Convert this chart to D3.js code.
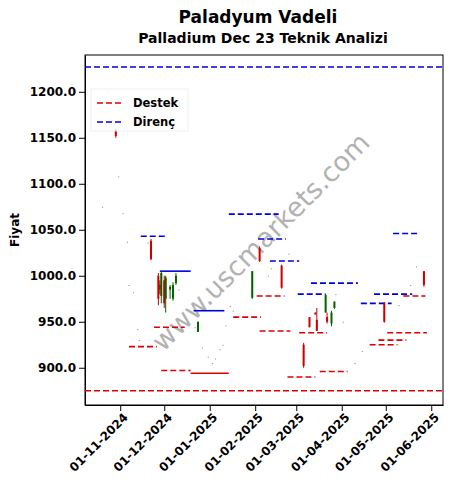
<!DOCTYPE html>
<html><head><meta charset="utf-8">
<script src="https://cdn.jsdelivr.net/npm/d3@7"></script>
<style>body{margin:0;background:#fff}svg text{font-family:"DejaVu Sans",sans-serif}</style>
</head><body><svg id="c" width="451" height="489"></svg>
<script>
const yTicks=[900,950,1000,1050,1100,1150,1200];
const xTicks=["2024-11-01","2024-12-01","2025-01-01","2025-02-01","2025-03-01","2025-04-01","2025-05-01","2025-06-01"];
// candles: date, open, high, low, close
const candles=[
["2024-10-20",1075,1075,1074,1075],["2024-10-24",1201,1201,1200,1201],["2024-10-29",1158,1160,1150,1152],
["2024-10-31",1108,1108,1107,1108],["2024-11-03",1068,1068,1067,1068],["2024-11-06",1037,1037,1036,1037],
["2024-11-07",990,990,989,990],["2024-11-10",982,982,981,982],["2024-11-13",942,942,941,942],
["2024-11-14",930,930,929,930],["2024-11-20",1036,1036,1035,1036],["2024-11-22",1038,1040,1017,1018],
["2024-11-27",1000,1003,968,975],["2024-11-28",990,995,980,985],["2024-11-29",978,1005,970,1003],
["2024-12-01",995,1000,965,970],["2024-12-02",975,1000,960,998],["2024-12-05",985,990,975,988],
["2024-12-07",975,993,973,990],["2024-12-09",992,1003,990,1000],["2024-12-11",985,985,984,985],
["2024-12-24",939,950,939,950],["2024-12-22",944,944,943,944],["2024-12-27",922,922,921,922],
["2024-12-31",912,912,911,912],["2025-01-03",905,905,904,905],["2025-01-05",910,910,909,910],
["2025-01-08",920,920,919,920],["2025-01-10",925,925,924,925],["2025-01-12",946,946,945,946],
["2025-01-15",967,967,966,967],["2025-01-17",962,962,961,962],["2025-01-30",976,1005,975,1005],
["2025-02-04",1030,1032,1015,1016],["2025-02-10",1000,1000,999,1000],["2025-02-12",1008,1008,1007,1008],
["2025-02-19",1011,1012,986,987],["2025-02-24",1024,1024,1023,1024],["2025-03-06",925,927,900,902],
["2025-03-10",955,955,944,944],["2025-03-14",960,960,958,958],["2025-03-15",952,965,940,940],
["2025-03-21",960,980,960,979],["2025-03-22",955,960,948,950],["2025-03-25",948,962,945,960],
["2025-03-27",965,972,964,972],["2025-03-28",980,980,979,980],["2025-04-02",950,950,949,950],
["2025-04-10",905,905,904,905],["2025-04-15",918,918,917,918],["2025-04-18",970,970,969,970],
["2025-04-30",971,971,949,950],["2025-05-03",925,925,924,925],["2025-05-10",968,968,967,968],
["2025-05-18",990,990,989,990],["2025-05-22",1010,1010,1009,1010],["2025-05-27",1005,1005,988,990]];
const resistance=[["2024-10-08","2025-06-09",1227],["2024-11-15","2024-12-03",1043],["2024-11-28","2024-12-19",1005,1],
["2024-12-21","2025-01-11",962,1],["2025-01-14","2025-02-17",1067],["2025-02-03","2025-02-22",1040],
["2025-02-11","2025-03-03",1016],["2025-03-02","2025-03-21",980],["2025-03-11","2025-04-12",992],
["2025-04-14","2025-05-05",970],["2025-04-23","2025-05-19",980],["2025-05-06","2025-05-24",1046]];
const support=[["2024-10-08","2025-06-09",875],["2024-11-07","2024-11-26",923],["2024-11-24","2024-12-15",944],
["2024-11-29","2024-12-19",897],["2024-12-19","2025-01-14",894,1],["2025-01-17","2025-02-05",955],
["2025-02-02","2025-02-21",978],["2025-02-04","2025-02-25",940],["2025-02-23","2025-03-14",890],
["2025-03-03","2025-03-22",938],["2025-03-17","2025-04-05",896],["2025-04-20","2025-05-09",925],
["2025-04-26","2025-05-15",930],["2025-05-02","2025-05-29",938],["2025-05-13","2025-05-28",978]];

const P=d3.timeParse("%Y-%m-%d"), F=d3.timeFormat("%d-%m-%Y");
const svg=d3.select("#c");
const L=85,R=443,T=55,B=405;
const x=d3.scaleTime().domain([P("2024-10-08"),P("2025-06-09")]).range([L,R]);
const y=d3.scaleLinear().domain([859.5,1240]).range([B,T]);
svg.append("text").attr("x",258).attr("y",23).attr("text-anchor","middle").attr("font-size",17).attr("font-weight","bold").text("Paladyum Vadeli");
svg.append("text").attr("x",263).attr("y",43).attr("text-anchor","middle").attr("font-size",14).attr("font-weight","bold").text("Palladium Dec 23 Teknik Analizi");
svg.append("text").attr("transform","translate(19,230) rotate(-90)").attr("text-anchor","middle").attr("font-size",12).attr("font-weight","bold").text("Fiyat");
svg.append("text").attr("transform","translate(262,243) rotate(-45)").attr("text-anchor","middle").attr("dominant-baseline","middle").attr("font-size",27).attr("fill","#999").attr("opacity",0.75).text("www.uscmarkets.com");
const ya=svg.append("g").attr("transform",`translate(${L},0)`).call(d3.axisLeft(y).tickValues(yTicks).tickFormat(d3.format(".1f")).tickSizeOuter(0));
ya.selectAll("text").attr("font-size",12).attr("font-weight","bold").attr("fill","#000");
const xa=svg.append("g").attr("transform",`translate(0,${B})`).call(d3.axisBottom(x).tickValues(xTicks.map(P)).tickFormat(F).tickSizeOuter(0));
xa.selectAll("text").attr("font-size",12).attr("font-weight","bold").attr("fill","#000").attr("text-anchor","end").attr("dx","-0.3em").attr("dy","0.5em").attr("transform","rotate(-45)");
svg.append("rect").attr("x",L).attr("y",T).attr("width",R-L).attr("height",B-T).attr("fill","none").attr("stroke","#000");
function seg(arr,col){arr.forEach(s=>svg.append("line").attr("x1",x(P(s[0]))).attr("x2",x(P(s[1]))).attr("y1",y(s[2])).attr("y2",y(s[2])).attr("stroke",col).attr("stroke-width",1.6).attr("stroke-dasharray",s[3]?null:"6,3"));}
seg(resistance,"#0000dd");seg(support,"#dd0000");
candles.forEach(c=>{const cx=x(P(c[0]));const dot=c[2]-c[3]<2;
 const col=dot?"#555":(c[4]>=c[1]?"#006400":"#cc0000");
 svg.append("line").attr("x1",cx).attr("x2",cx).attr("y1",y(c[2])).attr("y2",y(c[3])).attr("stroke",col).attr("stroke-width",dot?0.8:1);
 if(!dot)svg.append("rect").attr("x",cx-1).attr("width",2).attr("y",y(Math.max(c[1],c[4]))).attr("height",Math.max(1,Math.abs(y(c[1])-y(c[4])))).attr("fill",col);});
const lg=svg.append("g");
lg.append("rect").attr("x",91).attr("y",89).attr("width",97).attr("height",42).attr("fill","#fff").attr("opacity",0.8).attr("stroke","#eee");
[["Destek","#dd0000",103],["Direnç","#0000dd",122]].forEach(e=>{lg.append("line").attr("x1",97).attr("x2",122).attr("y1",e[2]).attr("y2",e[2]).attr("stroke",e[1]).attr("stroke-width",1.6).attr("stroke-dasharray","6,3");
lg.append("text").attr("x",133).attr("y",e[2]+4).attr("font-size",11.5).attr("font-weight","bold").text(e[0]);});
</script></body></html>
